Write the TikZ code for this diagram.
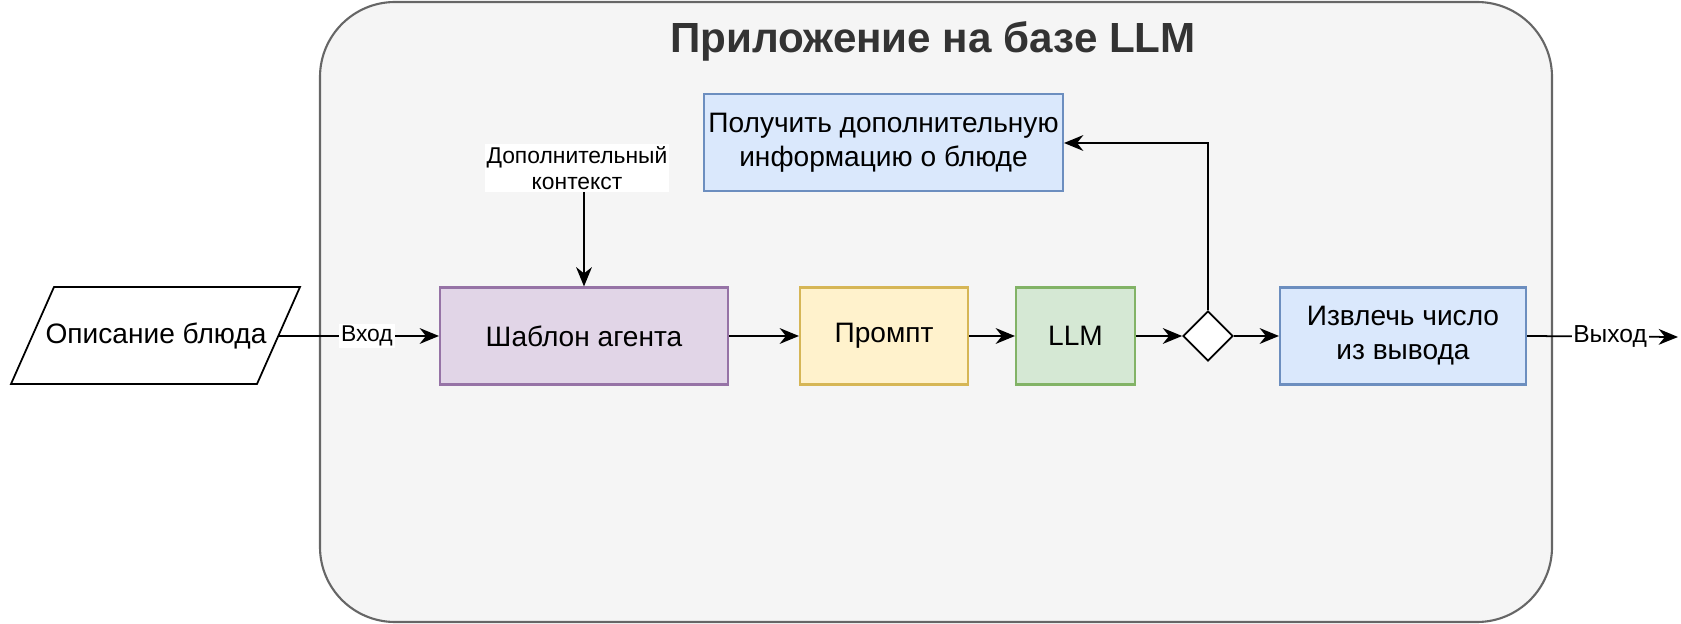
\documentclass[tikz,border=0pt]{standalone}
\usepackage{fontspec}
\setmainfont{Liberation Sans}
\usetikzlibrary{shapes.geometric,arrows.meta}
\definecolor{cfill}{HTML}{F5F5F5}\definecolor{cline}{HTML}{666666}
\definecolor{pf}{HTML}{E1D5E7}\definecolor{pl}{HTML}{9673A6}
\definecolor{yf}{HTML}{FFF2CC}\definecolor{yl}{HTML}{D6B656}
\definecolor{gf}{HTML}{D5E8D4}\definecolor{gl}{HTML}{82B366}
\definecolor{bf}{HTML}{DAE8FC}\definecolor{bl}{HTML}{6C8EBF}
\begin{document}
\begin{tikzpicture}[x=0.02cm,y=-0.02cm,
  box/.style={draw=#1,line width=1.2pt,minimum height=1.94cm,inner sep=2pt,align=center,font=\fontsize{16}{19.5}\selectfont},
  arr/.style={-{Stealth[length=11pt,width=9pt]},line width=1pt},
  lab/.style={fill=white,inner sep=1pt,font=\fontsize{13}{15}\selectfont}]
\useasboundingbox (0,0) rectangle (1681,624);
\draw[fill=cfill,draw=cline,line width=1.2pt,rounded corners=1.5cm] (320,2) rectangle (1552,622);
\node[font=\bfseries\fontsize{24}{28}\selectfont,text=black!80] (title) at (933,41) {Приложение на базе LLM};
\draw[line width=1pt,fill=white] (54,287) -- (300,287) -- (257,384) -- (11,384) -- cycle;
\node[font=\fontsize{16}{19}\selectfont,minimum height=1.94cm,minimum width=4.9cm,inner sep=0pt] (in) at (156,336) {Описание блюда};
\node[box=pl,fill=pf,minimum width=5.76cm] (tpl) at (584,336) {Шаблон агента};
\node[box=yl,fill=yf,minimum width=3.36cm] (pr) at (884,336) {Промпт};
\node[box=gl,fill=gf,minimum width=2.38cm] (llm) at (1075.5,336) {LLM};
\node[diamond,draw,line width=1pt,fill=white,minimum width=1cm,minimum height=1cm,inner sep=0pt] (d) at (1208,336) {};
\node[box=bl,fill=bf,minimum width=4.92cm] (ex) at (1403,336) {Извлечь число\\из вывода};
\node[box=bl,fill=bf,minimum width=7.18cm] (get) at (883.5,142.5) {Получить дополнительную\\информацию о блюде};
\node[lab,align=center] (ctx) at (577,168) {Дополнительный\\контекст};
\coordinate (out) at (1678,337);
\coordinate (c1) at (1208,143);
\draw[arr] (in.east) -- node[lab,pos=0.55]{Вход} (tpl.west);
\draw[arr] (ctx.south -| tpl.north) -- (tpl.north);
\draw[arr] (tpl) -- (pr);
\draw[arr] (pr) -- (llm);
\draw[arr] (llm) -- (d);
\draw[arr] (d) -- (ex);
\draw[arr] (d.north) -- (c1) -- (get.east |- c1);
\draw[arr] (ex.east) -- node[lab,pos=0.55,font=\fontsize{14}{16}\selectfont]{Выход} (out);
\end{tikzpicture}
\end{document}
